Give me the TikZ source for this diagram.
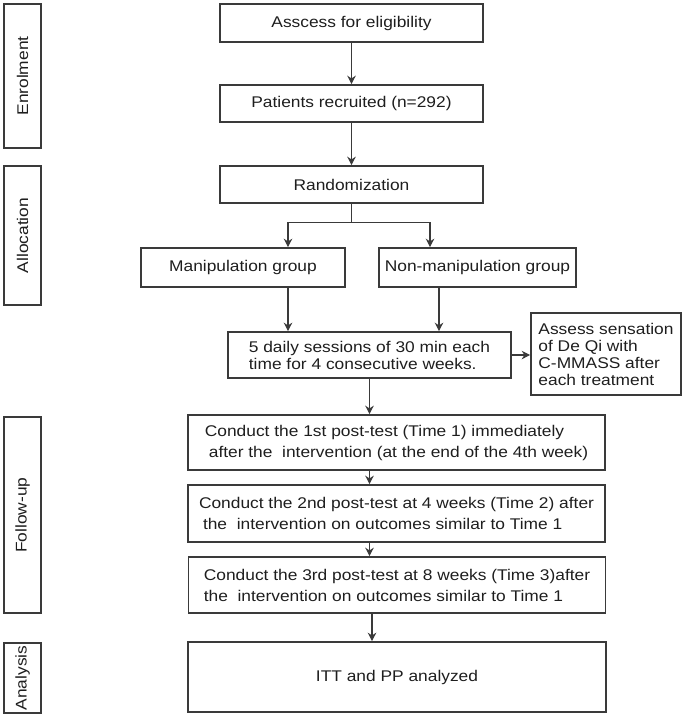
\documentclass[tikz,border=0pt]{standalone}
\usepackage{fontspec}
\setmainfont{Liberation Sans}[FakeStretch=1.12]
\usepackage{xcolor}
\usepackage{tikz}
\usetikzlibrary{arrows.meta,positioning}
\definecolor{fcLine}{HTML}{3A3A3A}
\definecolor{fcText}{HTML}{1E1E1E}

\begin{document}
\begin{tikzpicture}[x=1pt,y=-1pt,
    >={Stealth[length=8.5pt,width=8.5pt]},
    box/.style={draw=fcLine,line width=1.6pt,inner sep=0pt,align=center,
      text=fcText,font=\fontsize{15.5}{17}\selectfont},
    sidebox/.style={box,minimum width=37pt,rotate=90},
    postbox/.style={box,align=left,minimum width=417pt,
      font=\fontsize{15.5}{21}\selectfont},
    link/.style={fcLine,line width=1.1pt,->}]
    \useasboundingbox (0,0) rectangle (685,716);
    \node[sidebox,minimum width=144pt,minimum height=37pt] (enrol) at (22.5,76) {Enrolment};
    \node[sidebox,minimum width=139pt,minimum height=37pt] (alloc) at (22.5,235.5) {Allocation};
    \node[sidebox,minimum width=196pt,minimum height=37pt] (follow) at (22.5,515) {Follow-up};
    \node[sidebox,minimum width=70pt,minimum height=37pt] (anal) at (22.5,678) {Analysis};
    \node[box,minimum width=263pt,minimum height=38pt] (elig) at (351.5,23) {Asscess for eligibility};
    \node[box,minimum width=263pt,minimum height=37pt] (recr) at (351.5,103.5) {Patients recruited (n=292)};
    \node[box,minimum width=263pt,minimum height=37pt] (rand) at (351.5,184.5) {Randomization};
    \node[box,minimum width=204pt,minimum height=39pt] (manip) at (243,267.5) {Manipulation group};
    \node[box,minimum width=197pt,minimum height=39pt] (nonmanip) at (477.5,267.5) {Non-manipulation group};
    \node[box,align=left,minimum width=283pt,minimum height=46pt] (daily) at (369.5,355)
      {5 daily sessions of 30 min each\\time for 4 consecutive weeks.};
    \node[box,align=left,minimum width=150pt,minimum height=82pt] (deqi) at (606,354)
      {Assess sensation\\of De Qi with\\C-MMASS after\\each treatment};
    \node[postbox,minimum height=55pt,xshift=-4pt] (post1) at (400.5,442.5)
      {Conduct the 1st post-test (Time 1) immediately\\\hspace*{4pt}after the~ intervention (at the end of the 4th week)};
    \node[postbox,minimum height=57pt] (post2) at (396.5,513.5)
      {Conduct the 2nd post-test at 4 weeks (Time 2) after\\\hspace*{4pt}the~ intervention on outcomes similar to Time 1};
    \node[postbox,minimum height=56pt] (post3) at (397,585)
      {Conduct the 3rd post-test at 8 weeks (Time 3)after\\the~ intervention on outcomes similar to Time 1};
    \node[box,minimum width=418pt,minimum height=70pt] (itt) at (397,677) {ITT and PP analyzed};
    \coordinate (lanea) at (288,0);
    \coordinate (laneb) at (430,0);
    \coordinate (lanec) at (439,0);
    \coordinate (laned) at (372,0);
    \draw[link] (elig) -- (recr);
    \draw[link] (recr) -- (rand);
    \draw[fcLine,line width=1.1pt] (rand.south) -- ++(0,19) coordinate (split);
    \draw[link] (split) -| (manip.north -| lanea);
    \draw[link] (split) -| (nonmanip.north -| laneb);
    \draw[link] (manip.south -| lanea) -- (daily.north -| lanea);
    \draw[link] (nonmanip.south -| lanec) -- (daily.north -| lanec);
    \draw[link] (daily.east) -- (daily.east -| deqi.west);
    \draw[link] (daily.south) -- (daily.south |- post1.north);
    \draw[link] (post1.south -| daily.south) -- (post2.north -| daily.south);
    \draw[link] (post2.south -| daily.south) -- (post3.north -| daily.south);
    \draw[link] (post3.south -| laned) -- (itt.north -| laned);
  \end{tikzpicture}
\end{document}
